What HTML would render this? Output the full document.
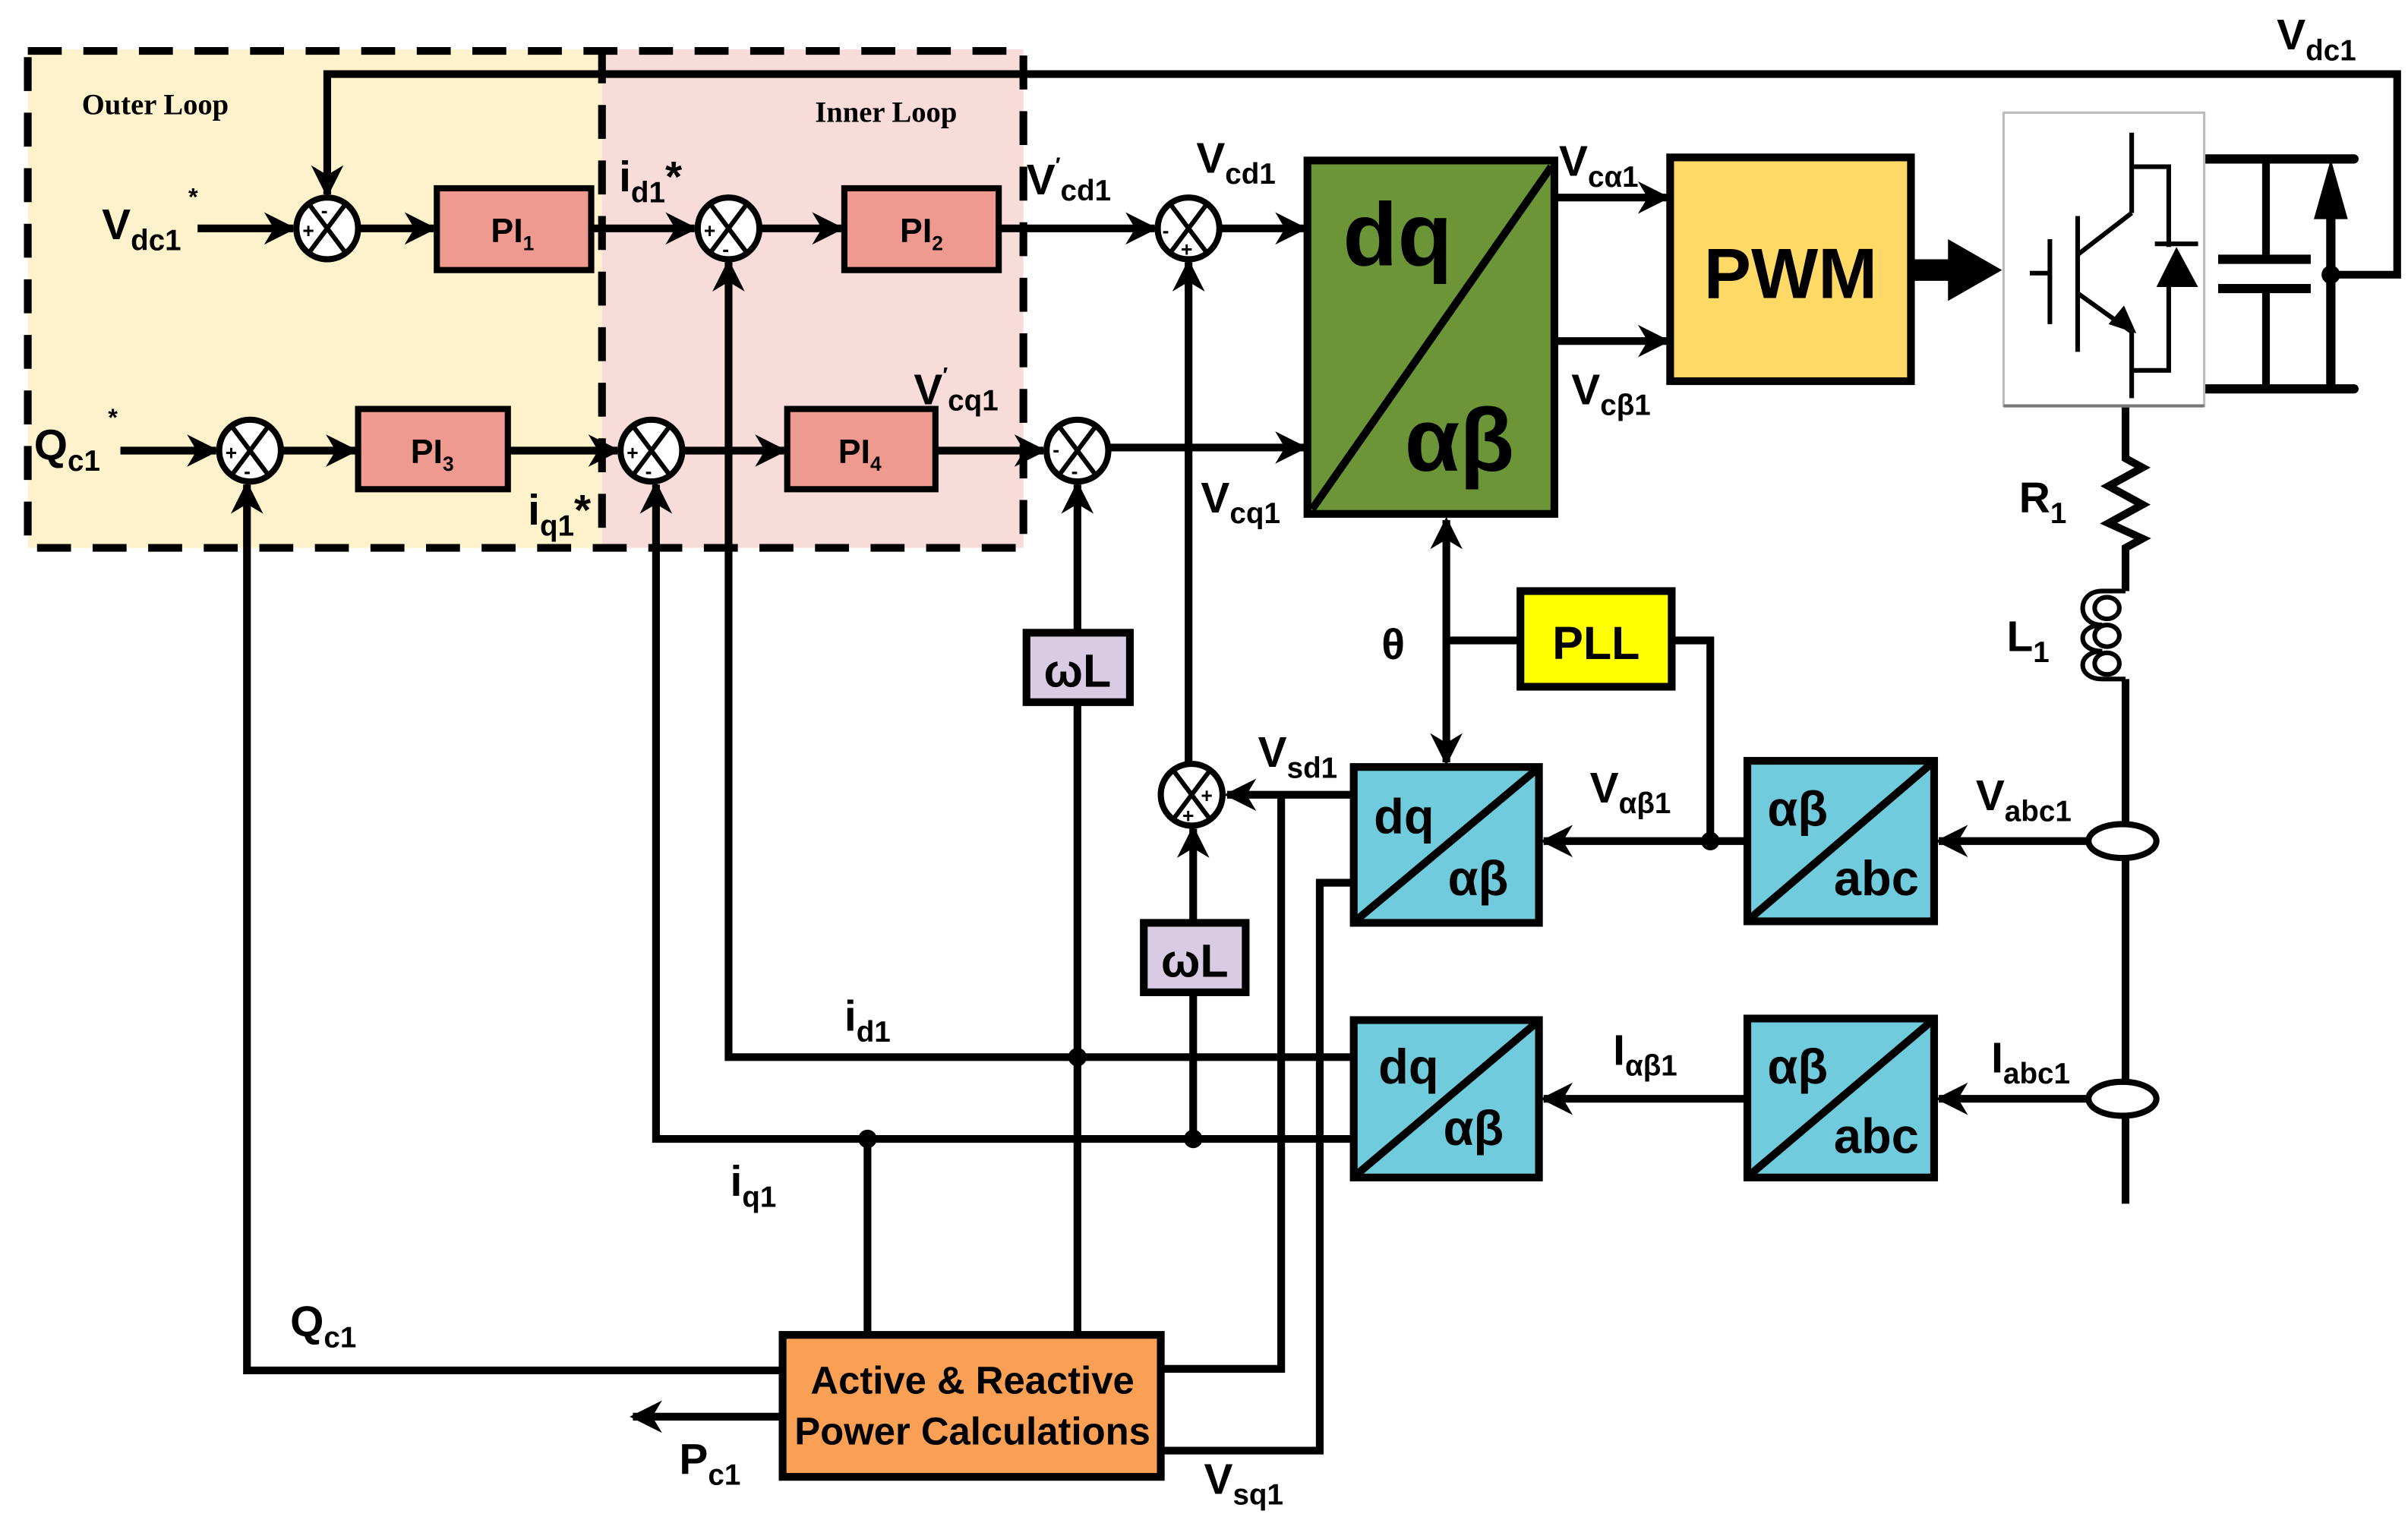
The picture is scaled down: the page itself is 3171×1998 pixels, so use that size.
<!DOCTYPE html>
<html><head><meta charset="utf-8"><style>
html,body{margin:0;padding:0;background:#fff;}
svg{display:block;}
text{font-family:"Liberation Sans Narrow","Liberation Sans",sans-serif;font-weight:bold;fill:#000;}
.s{font-size:13px;}
</style></head><body>
<svg width="3171" height="1998" viewBox="0 0 1560 983" preserveAspectRatio="none" xmlns="http://www.w3.org/2000/svg">
<defs>
<marker id="a" viewBox="0 0 10 10" refX="9" refY="5" markerWidth="4.2" markerHeight="4.2" orient="auto" markerUnits="strokeWidth"><path d="M0,0 L10,5 L0,10 L3,5 z" fill="#000"/></marker>
</defs>
<!-- loop backgrounds -->
<rect x="18" y="32" width="372" height="323" fill="#FEF2CC"/>
<rect x="390" y="32" width="273" height="323" fill="#F8DCDA"/>
<g fill="none" stroke="#000" stroke-width="5" stroke-dasharray="22,14">
<rect x="18" y="33" width="645" height="322"/>
<line x1="390" y1="32" x2="390" y2="355"/>
</g>
<text x="53" y="74" style="font-family:'Liberation Serif',serif;font-size:19px">Outer Loop</text>
<text x="528" y="79" style="font-family:'Liberation Serif',serif;font-size:19px">Inner Loop</text>

<g stroke="#000" stroke-width="5" fill="none">
<!-- Vdc feedback -->
<polyline points="1510,178 1553,178 1553,48 212,48 212,126" marker-end="url(#a)"/>
<!-- top row -->
<line x1="128" y1="148" x2="190" y2="148" marker-end="url(#a)"/>
<line x1="232" y1="148" x2="281" y2="148" marker-end="url(#a)"/>
<line x1="383" y1="148" x2="450" y2="148" marker-end="url(#a)"/>
<line x1="492" y1="148" x2="545" y2="148" marker-end="url(#a)"/>
<line x1="647" y1="148" x2="748" y2="148" marker-end="url(#a)"/>
<line x1="790" y1="148" x2="845" y2="148" marker-end="url(#a)"/>
<!-- q row -->
<line x1="78" y1="292" x2="140" y2="292" marker-end="url(#a)"/>
<line x1="182" y1="292" x2="230" y2="292" marker-end="url(#a)"/>
<line x1="329" y1="292" x2="400" y2="292" marker-end="url(#a)"/>
<line x1="442" y1="292" x2="508" y2="292" marker-end="url(#a)"/>
<line x1="606" y1="292" x2="676" y2="292" marker-end="url(#a)"/>
<line x1="718" y1="290" x2="845" y2="290" marker-end="url(#a)"/>
<!-- dq to PWM -->
<line x1="1007" y1="128" x2="1080" y2="128" marker-end="url(#a)"/>
<line x1="1007" y1="221" x2="1080" y2="221" marker-end="url(#a)"/>
<!-- feedback verticals -->
<polyline points="877,685 472,685 472,170" marker-end="url(#a)"/>
<polyline points="877,738 425,738 425,314" marker-end="url(#a)"/>
<polyline points="507,888 160,888 160,314" marker-end="url(#a)"/>
<line x1="507" y1="918" x2="410" y2="918" marker-end="url(#a)"/>
<line x1="562" y1="738" x2="562" y2="865"/>
<line x1="698" y1="865" x2="698" y2="455"/>
<line x1="698" y1="410" x2="698" y2="314" marker-end="url(#a)"/>
<line x1="773" y1="738" x2="773" y2="643"/>
<line x1="773" y1="598" x2="773" y2="537" marker-end="url(#a)"/>
<line x1="770" y1="495" x2="770" y2="170" marker-end="url(#a)"/>
<!-- Vsd / Vsq -->
<line x1="877" y1="515" x2="795" y2="515" marker-end="url(#a)"/>
<polyline points="830,515 830,887 752,887"/>
<polyline points="877,572 855,572 855,940 752,940"/>
<!-- theta -->
<line x1="937" y1="415" x2="937" y2="337" marker-end="url(#a)"/>
<line x1="937" y1="415" x2="937" y2="494" marker-end="url(#a)"/>
<line x1="937" y1="415" x2="985" y2="415"/>
<polyline points="1083,415 1108,415 1108,545"/>
<line x1="1132" y1="545" x2="1000" y2="545" marker-end="url(#a)"/>
<line x1="1132" y1="712" x2="1000" y2="712" marker-end="url(#a)"/>
<line x1="1353" y1="545" x2="1256" y2="545" marker-end="url(#a)"/>
<line x1="1353" y1="712" x2="1256" y2="712" marker-end="url(#a)"/>
<!-- grid line -->
<polyline points="1377,264 1377,297 1388,303 1366,315 1388,327 1366,339 1388,349 1377,355 1377,383"/>
<line x1="1377" y1="440" x2="1377" y2="780"/>
<!-- dc bus -->
<line x1="1425" y1="103" x2="1525" y2="103" stroke-linecap="round" stroke-width="6"/>
<line x1="1425" y1="252" x2="1525" y2="252" stroke-linecap="round" stroke-width="6"/>
<line x1="1468" y1="103" x2="1468" y2="168"/>
<line x1="1468" y1="187" x2="1468" y2="252"/>
<line x1="1437" y1="168" x2="1497" y2="168" stroke-width="6"/>
<line x1="1437" y1="187" x2="1497" y2="187" stroke-width="6"/>
<line x1="1510" y1="252" x2="1510" y2="140" stroke-width="6"/>
</g>
<path d="M1510,103 L1499,142 L1521,142 z"/>
<!-- inductor -->
<g fill="none" stroke="#000" stroke-width="3">
<path d="M1377,383 L1362,383 C1345,383 1345,405 1362,405 C1345,405 1345,422 1362,422 C1345,422 1345,440 1362,440 L1377,440"/>
<ellipse cx="1365" cy="394" rx="8" ry="7"/><ellipse cx="1365" cy="412" rx="8" ry="7"/><ellipse cx="1365" cy="430" rx="8" ry="7"/>
</g>
<!-- CTs -->
<ellipse cx="1375" cy="545" rx="22" ry="11" fill="#fff" stroke="#000" stroke-width="4"/>
<ellipse cx="1375" cy="712" rx="22" ry="11" fill="#fff" stroke="#000" stroke-width="4"/>
<!-- dots -->
<g fill="#000"><circle cx="698" cy="685" r="6"/><circle cx="562" cy="738" r="6"/><circle cx="773" cy="738" r="6"/><circle cx="1108" cy="545" r="6"/><circle cx="1510" cy="178" r="6"/></g>

<!-- thick arrow PWM -> IGBT -->
<path d="M1238,168 L1262,168 L1262,155 L1297,175 L1262,195 L1262,182 L1238,182 z"/>

<!-- sums -->
<g fill="#fff" stroke="#000" stroke-width="4">
<circle cx="212" cy="148" r="20"/><circle cx="472" cy="148" r="20"/><circle cx="770" cy="148" r="20"/>
<circle cx="162" cy="292" r="20"/><circle cx="422" cy="292" r="20"/><circle cx="698" cy="292" r="20"/>
<circle cx="772" cy="515" r="20"/>
</g>
<g stroke="#000" stroke-width="3">
<path d="M200,132 L224,164 M224,132 L200,164"/>
<path d="M460,132 L484,164 M484,132 L460,164"/>
<path d="M758,132 L782,164 M782,132 L758,164"/>
<path d="M150,276 L174,308 M174,276 L150,308"/>
<path d="M410,276 L434,308 M434,276 L410,308"/>
<path d="M686,276 L710,308 M710,276 L686,308"/>
<path d="M760,499 L784,531 M784,499 L760,531"/>
</g>
<g class="s" style="font-family:'Liberation Sans',sans-serif;font-size:13px">
<text x="196" y="154">+</text><text x="208" y="141">-</text>
<text x="456" y="154">+</text><text x="468" y="166">-</text>
<text x="753" y="154">-</text><text x="765" y="166">+</text>
<text x="146" y="298">+</text><text x="158" y="310">-</text>
<text x="406" y="298">+</text><text x="418" y="310">-</text>
<text x="682" y="296">-</text><text x="694" y="310">-</text>
<text x="778" y="520">+</text><text x="766" y="533">+</text>
</g>

<!-- PI boxes -->
<g fill="#EF9A91" stroke="#000" stroke-width="4">
<rect x="283" y="122" width="100" height="53"/><rect x="547" y="122" width="100" height="53"/>
<rect x="232" y="265" width="97" height="52"/><rect x="510" y="265" width="96" height="52"/>
</g>
<g style="font-size:22px">
<text x="318" y="157">PI<tspan style="font-size:13px" dy="5">1</tspan></text>
<text x="583" y="157">PI<tspan style="font-size:13px" dy="5">2</tspan></text>
<text x="266" y="300">PI<tspan style="font-size:13px" dy="5">3</tspan></text>
<text x="543" y="300">PI<tspan style="font-size:13px" dy="5">4</tspan></text>
</g>

<!-- dq/ab main -->
<rect x="847" y="104" width="160" height="229" fill="#6B9537" stroke="#000" stroke-width="5"/>
<line x1="850" y1="330" x2="1005" y2="108" stroke="#000" stroke-width="5"/>
<text x="870" y="172" style="font-size:58px">dq</text>
<text x="910" y="305" style="font-size:58px">αβ</text>

<!-- PWM -->
<rect x="1082" y="102" width="156" height="145" fill="#FFD966" stroke="#000" stroke-width="5"/>
<text x="1160" y="193" text-anchor="middle" style="font-size:46px;font-family:'Liberation Sans',sans-serif">PWM</text>

<!-- IGBT -->
<rect x="1298" y="73" width="130" height="190" fill="#fff" stroke="#bbb" stroke-width="1.5"/>
<line x1="1298" y1="263" x2="1428" y2="263" stroke="#777" stroke-width="2"/>
<g stroke="#000" stroke-width="3" fill="none">
<line x1="1381" y1="86" x2="1381" y2="138"/>
<polyline points="1381,108 1405,108 1405,160"/>
<line x1="1381" y1="138" x2="1346" y2="165"/>
<line x1="1346" y1="140" x2="1346" y2="228"/>
<line x1="1328" y1="155" x2="1328" y2="210"/>
<line x1="1315" y1="177" x2="1328" y2="177"/>
<line x1="1346" y1="190" x2="1381" y2="215"/>
<polyline points="1381,215 1381,258"/>
<polyline points="1381,240 1405,240 1405,180"/>
<line x1="1396" y1="158" x2="1424" y2="158"/>
</g>
<path d="M1410,160 L1397,186 L1424,186 z"/>
<path d="M1384,216 L1366,210 L1376,198 z"/>

<!-- PLL -->
<rect x="985" y="383" width="98" height="62" fill="#FFFF00" stroke="#000" stroke-width="5"/>
<text x="1034" y="427" text-anchor="middle" style="font-size:30px">PLL</text>

<!-- omegaL -->
<g fill="#D8CBE3" stroke="#000" stroke-width="5">
<rect x="665" y="410" width="67" height="45"/><rect x="741" y="598" width="66" height="45"/>
</g>
<text x="698" y="445" text-anchor="middle" style="font-size:30px">ωL</text>
<text x="774" y="633" text-anchor="middle" style="font-size:30px">ωL</text>

<!-- cyan boxes -->
<g fill="#70CCDD" stroke="#000" stroke-width="5">
<rect x="877" y="497" width="120" height="101"/><rect x="877" y="661" width="120" height="102"/>
<rect x="1132" y="493" width="121" height="104"/><rect x="1132" y="660" width="121" height="103"/>
</g>
<g stroke="#000" stroke-width="5">
<line x1="879" y1="596" x2="995" y2="499"/><line x1="879" y1="761" x2="995" y2="663"/>
<line x1="1134" y1="595" x2="1251" y2="495"/><line x1="1134" y1="761" x2="1251" y2="662"/>
</g>
<g style="font-size:32px">
<text x="890" y="540">dq</text><text x="938" y="580">αβ</text>
<text x="893" y="702">dq</text><text x="935" y="742">αβ</text>
<text x="1145" y="535">αβ</text><text x="1188" y="580">abc</text>
<text x="1145" y="702">αβ</text><text x="1188" y="747">abc</text>
</g>

<!-- Active box -->
<rect x="507" y="865" width="245" height="92" fill="#F9A054" stroke="#000" stroke-width="5"/>
<text x="630" y="903" text-anchor="middle" style="font-size:25px">Active &amp; Reactive</text>
<text x="630" y="936" text-anchor="middle" style="font-size:25px">Power Calculations</text>

<!-- labels -->
<g style="font-size:28px">
<text x="1475" y="32">V<tspan style="font-size:19px" dy="7">dc1</tspan></text>
<text x="66" y="155">V<tspan style="font-size:19px" dy="7">dc1</tspan></text><text x="122" y="133" style="font-size:16px">*</text>
<text x="22" y="298">Q<tspan style="font-size:19px" dy="7">c1</tspan></text><text x="70" y="276" style="font-size:16px">*</text>
<text x="401" y="124">i<tspan style="font-size:19px" dy="7">d1</tspan><tspan dy="-7">*</tspan></text>
<text x="342" y="340">i<tspan style="font-size:19px" dy="7">q1</tspan><tspan dy="-7">*</tspan></text>
<text x="665" y="126">V<tspan style="font-size:14px" dy="-14">′</tspan><tspan style="font-size:19px" dy="18">cd1</tspan></text>
<text x="775" y="112">V<tspan style="font-size:19px" dy="7">cd1</tspan></text>
<text x="592" y="262">V<tspan style="font-size:14px" dy="-14">′</tspan><tspan style="font-size:19px" dy="18">cq1</tspan></text>
<text x="778" y="332">V<tspan style="font-size:19px" dy="7">cq1</tspan></text>
<text x="1010" y="114">V<tspan style="font-size:19px" dy="7">cα1</tspan></text>
<text x="1018" y="262">V<tspan style="font-size:19px" dy="7">cβ1</tspan></text>
<text x="895" y="427">θ</text>
<text x="1308" y="332">R<tspan style="font-size:19px" dy="7">1</tspan></text>
<text x="1300" y="422">L<tspan style="font-size:19px" dy="7">1</tspan></text>
<text x="815" y="497">V<tspan style="font-size:19px" dy="7">sd1</tspan></text>
<text x="1030" y="520">V<tspan style="font-size:19px" dy="7">αβ1</tspan></text>
<text x="1280" y="525">V<tspan style="font-size:19px" dy="7">abc1</tspan></text>
<text x="1045" y="690">I<tspan style="font-size:19px" dy="7">αβ1</tspan></text>
<text x="1290" y="695">I<tspan style="font-size:19px" dy="7">abc1</tspan></text>
<text x="547" y="668">i<tspan style="font-size:19px" dy="7">d1</tspan></text>
<text x="473" y="775">i<tspan style="font-size:19px" dy="7">q1</tspan></text>
<text x="188" y="866">Q<tspan style="font-size:19px" dy="7">c1</tspan></text>
<text x="440" y="955">P<tspan style="font-size:19px" dy="7">c1</tspan></text>
<text x="780" y="968">V<tspan style="font-size:19px" dy="7">sq1</tspan></text>
</g>
</svg>
</body></html>
